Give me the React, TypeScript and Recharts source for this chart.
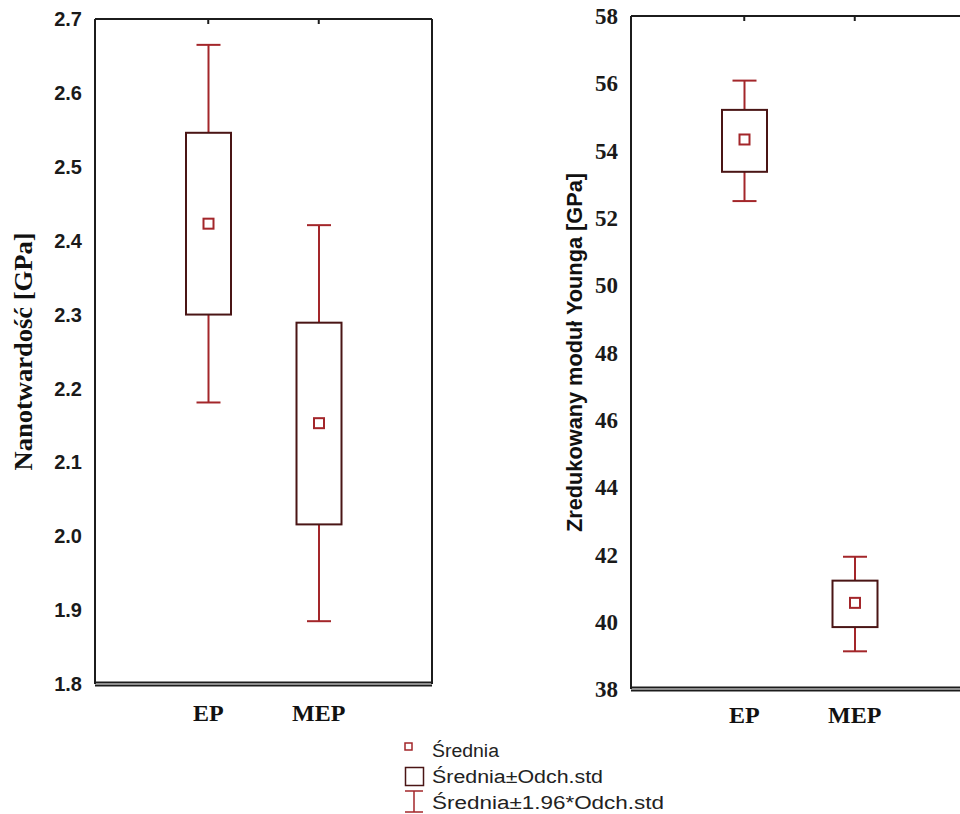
import { Bar, ComposedChart, Label, ReferenceLine, XAxis, YAxis } from 'recharts';

const groups = ['EP', 'MEP'];

// Nanotwardość [GPa]
const hardMean = [2.423, 2.153];
const hardSdLow = [2.3, 2.016];
const hardSdHigh = [2.546, 2.289];
const hardCiLow = [2.181, 1.885];
const hardCiHigh = [2.665, 2.421];
const hardTicks = [1.8, 1.9, 2.0, 2.1, 2.2, 2.3, 2.4, 2.5, 2.6, 2.7];

// Zredukowany moduł Younga [GPa]
const modMean = [54.33, 40.56];
const modSdLow = [53.37, 39.84];
const modSdHigh = [55.21, 41.22];
const modCiLow = [52.5, 39.12];
const modCiHigh = [56.08, 41.93];
const modTicks = [38, 40, 42, 44, 46, 48, 50, 52, 54, 56, 58];

const legendLabels = ['Średnia', 'Średnia±Odch.std', 'Średnia±1.96*Odch.std'];

const MEAN_COLOR = '#a3262a';
const BOX_COLOR = '#4a1515';
const FRAME = '#1c1c1c';
const SERIF = '"Liberation Serif", "Times New Roman", serif';
const SANS = '"Liberation Sans", Arial, sans-serif';

type Row = {
  name: string;
  mean: number;
  sdLow: number;
  sdHigh: number;
  ciLow: number;
  ciHigh: number;
  ci: [number, number];
};

function buildRows(mean: number[], sdLow: number[], sdHigh: number[], ciLow: number[], ciHigh: number[]): Row[] {
  return groups.map((name, i) => ({
    name,
    mean: mean[i],
    sdLow: sdLow[i],
    sdHigh: sdHigh[i],
    ciLow: ciLow[i],
    ciHigh: ciHigh[i],
    ci: [ciLow[i], ciHigh[i]],
  }));
}

// whisker + box + mean, placed inside the range bar recharts computed for ci
function BoxShape(props: any) {
  const { x, y, width, height, payload } = props;
  if (!payload) return <g />;
  const top = Math.min(y, y + height);
  const bottom = Math.max(y, y + height);
  const toY = (v: number) => top + ((payload.ciHigh - v) / (payload.ciHigh - payload.ciLow)) * (bottom - top);
  const cx = x + width / 2;
  const cap = 12;
  const m = 5;
  const boxTop = toY(payload.sdHigh);
  const boxBottom = toY(payload.sdLow);
  const my = toY(payload.mean);
  return (
    <g>
      <line x1={cx} x2={cx} y1={top} y2={boxTop} stroke={MEAN_COLOR} strokeWidth={2} />
      <line x1={cx} x2={cx} y1={boxBottom} y2={bottom} stroke={MEAN_COLOR} strokeWidth={2} />
      <line x1={cx - cap} x2={cx + cap} y1={top} y2={top} stroke={MEAN_COLOR} strokeWidth={2} />
      <line x1={cx - cap} x2={cx + cap} y1={bottom} y2={bottom} stroke={MEAN_COLOR} strokeWidth={2} />
      <rect x={x} y={boxTop} width={width} height={boxBottom - boxTop} fill="#fff" stroke={BOX_COLOR} strokeWidth={2} />
      <rect x={cx - m} y={my - m} width={m * 2} height={m * 2} fill="#fff" stroke={MEAN_COLOR} strokeWidth={2} />
    </g>
  );
}

const noTick = () => <g />;

interface PanelProps {
  rows: Row[];
  domain: [number, number];
  ticks: number[];
  fmt: (v: number) => string;
  width: number;
  height: number;
  margin: { top: number; right: number; bottom: number; left: number };
  tickStyle: Record<string, any>;
  labelMargin: number;
  title: string;
  titleX: number;
  titleStyle: Record<string, any>;
  titleLength: number;
}

function Panel(p: PanelProps) {
  const renderTitle = (lp: any) => {
    const vb = lp.viewBox || { y: 0, height: 0 };
    const cy = vb.y + vb.height / 2;
    return (
      <text
        x={p.titleX}
        y={cy}
        transform={`rotate(-90 ${p.titleX} ${cy})`}
        textAnchor="middle"
        dominantBaseline="central"
        textLength={p.titleLength}
        lengthAdjust="spacingAndGlyphs"
        style={p.titleStyle}
      >
        {p.title}
      </text>
    );
  };

  return (
    <ComposedChart width={p.width} height={p.height} data={p.rows} margin={p.margin}>
      <XAxis
        xAxisId="bottom"
        dataKey="name"
        padding={{ left: 58, right: 58 }}
        height={50}
        axisLine={false}
        tickLine={false}
        tickSize={0}
        tickMargin={p.labelMargin}
        interval={0}
        tick={{ fontSize: 24, fontWeight: 700, fontFamily: SERIF, fill: '#111' }}
      />
      <XAxis
        xAxisId="top"
        orientation="top"
        dataKey="name"
        mirror
        padding={{ left: 58, right: 58 }}
        height={1}
        axisLine={{ stroke: FRAME, strokeWidth: 2 }}
        tickLine={{ stroke: FRAME, strokeWidth: 2 }}
        tickSize={5}
        interval={0}
        tick={noTick}
      />
      <YAxis
        yAxisId="left"
        type="number"
        domain={p.domain}
        ticks={p.ticks}
        interval={0}
        width={60}
        axisLine={{ stroke: FRAME, strokeWidth: 2 }}
        tickLine={false}
        tickSize={0}
        tickMargin={13}
        tickFormatter={p.fmt}
        tick={p.tickStyle}
      >
        <Label content={renderTitle} />
      </YAxis>
      <YAxis
        yAxisId="right"
        orientation="right"
        type="number"
        mirror
        domain={p.domain}
        ticks={p.ticks}
        interval={0}
        width={1}
        axisLine={{ stroke: FRAME, strokeWidth: 2 }}
        tickLine={{ stroke: FRAME, strokeWidth: 2 }}
        tickSize={5}
        tick={noTick}
      />
      <ReferenceLine xAxisId="bottom" yAxisId="left" y={p.domain[0]} stroke={FRAME} strokeWidth={5} />
      <ReferenceLine xAxisId="bottom" yAxisId="left" y={p.domain[0]} stroke="#fff" strokeWidth={1.2} />
      <Bar
        xAxisId="bottom"
        yAxisId="left"
        dataKey="ci"
        barSize={45}
        shape={BoxShape}
        isAnimationActive={false}
      />
    </ComposedChart>
  );
}

function StatLegend() {
  const text = { fontFamily: SANS, fontSize: 18, fill: '#222' };
  const lengths = [67, 171, 232];
  const baselines = [27, 53, 79];
  return (
    <svg width={300} height={84} style={{ position: 'absolute', left: 390, top: 730 }}>
      <rect x={15} y={13} width={7} height={7} fill="none" stroke={MEAN_COLOR} strokeWidth={1.5} />
      <rect x={15.5} y={37.5} width={18} height={18} fill="none" stroke={BOX_COLOR} strokeWidth={1.5} />
      <line x1={24} x2={24} y1={61} y2={82} stroke={MEAN_COLOR} strokeWidth={1.5} />
      <line x1={15} x2={33} y1={61} y2={61} stroke={MEAN_COLOR} strokeWidth={1.5} />
      <line x1={15} x2={33} y1={82} y2={82} stroke={MEAN_COLOR} strokeWidth={1.5} />
      {legendLabels.map((label, i) => (
        <text key={label} x={42} y={baselines[i]} textLength={lengths[i]} lengthAdjust="spacingAndGlyphs" style={text}>
          {label}
        </text>
      ))}
    </svg>
  );
}

const hardRows = buildRows(hardMean, hardSdLow, hardSdHigh, hardCiLow, hardCiHigh);
const modRows = buildRows(modMean, modSdLow, modSdHigh, modCiLow, modCiHigh);

export default function App() {
  return (
    <div
      style={{
        position: 'absolute',
        left: 0,
        top: 0,
        width: 960,
        height: 814,
        overflow: 'hidden',
        background: '#fff',
      }}
    >
      <div style={{ position: 'absolute', left: 0, top: 0 }}>
        <Panel
          rows={hardRows}
          domain={[1.8, 2.7]}
          ticks={hardTicks}
          fmt={(v) => v.toFixed(1)}
          width={460}
          height={740}
          margin={{ top: 19, right: 28, bottom: 6, left: 35 }}
          tickStyle={{ fontSize: 20, fontWeight: 700, fontFamily: SANS, fill: '#1a1a1a' }}
          labelMargin={20}
          title="Nanotwardość [GPa]"
          titleX={23}
          titleStyle={{ fontFamily: SERIF, fontSize: 26, fontWeight: 700, fill: '#111' }}
          titleLength={238}
        />
      </div>
      <div style={{ position: 'absolute', left: 480, top: 0 }}>
        <Panel
          rows={modRows}
          domain={[38, 58]}
          ticks={modTicks}
          fmt={(v) => String(v)}
          width={500}
          height={740}
          margin={{ top: 16, right: 12, bottom: 1, left: 91 }}
          tickStyle={{ fontSize: 23, fontWeight: 700, fontFamily: SERIF, fill: '#1a1a1a' }}
          labelMargin={17}
          title="Zredukowany moduł Younga [GPa]"
          titleX={95}
          titleStyle={{ fontFamily: SANS, fontSize: 21.5, fontWeight: 700, fill: '#111' }}
          titleLength={359}
        />
      </div>
      <StatLegend />
    </div>
  );
}
